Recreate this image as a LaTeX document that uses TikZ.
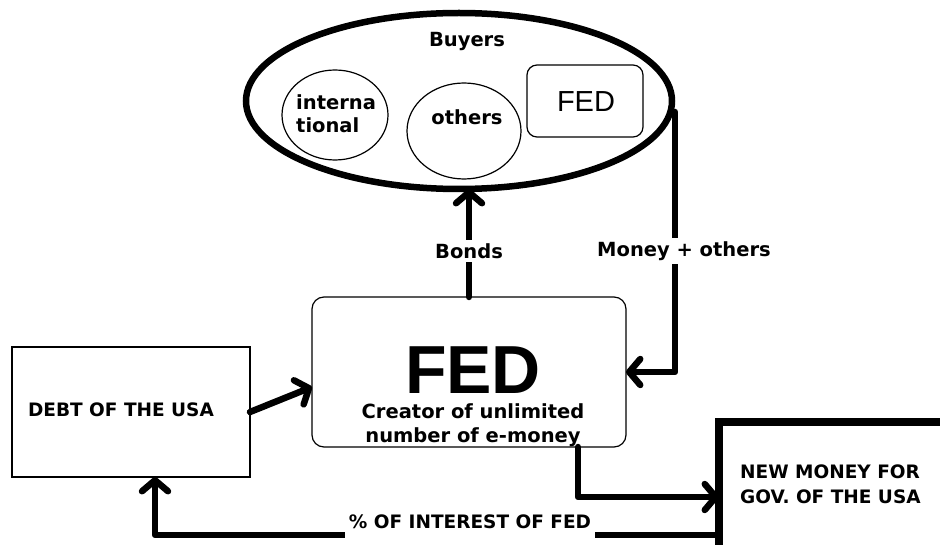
\documentclass[tikz,border=0pt]{standalone}
\usepackage{fontspec}
\usetikzlibrary{arrows.meta,shapes.geometric,calc}
\newfontfamily\tahomaf{DejaVu Sans}
\newfontfamily\arialf{Liberation Sans}
\begin{document}
\begin{tikzpicture}[x=1pt,y=-1pt,
  lbl/.style={font=\tahomaf\bfseries\fontsize{19.5}{23}\selectfont, inner sep=0pt, anchor=base},
  ulbl/.style={font=\tahomaf\bfseries\fontsize{18.5}{25}\selectfont, inner sep=0pt, anchor=base},
  thinbox/.style={draw, line width=1.2pt, inner sep=0pt, outer sep=0pt},
  flow/.style={line width=6.5pt, line join=round, line cap=round, -{Straight Barb[length=11pt,width=26pt,round]}},
  ]
\path[use as bounding box] (0,0) rectangle (940,545);
\clip (0,0) rectangle (940,545);
\fill[white] (0,0) rectangle (940,545);

% Buyers ellipse
\node[ellipse, draw, line width=6.5pt, minimum width=426pt, minimum height=176pt, inner sep=0pt, outer sep=0pt] (buy) at (459,101) {};
\node[lbl] (buyt) at (467,47) {Buyers};
\node[ellipse, thinbox, minimum width=106pt, minimum height=90pt] (intl) at (335,115) {};
\node[lbl, align=left, anchor=base west] (intlt) at (296,133) {interna\\tional};
\node[ellipse, thinbox, minimum width=114pt, minimum height=96pt] (oth) at (464,131) {};
\node[lbl] (otht) at (467,125) {others};
\node[rectangle, rounded corners=10pt, thinbox, minimum width=116pt, minimum height=72pt] (fedb) at (585,101) {};
\node[font=\arialf\fontsize{29}{32}\selectfont, inner sep=0pt, anchor=base] (fedbt) at (586,112) {FED};

% Central FED box
\node[rectangle, rounded corners=12pt, thinbox, minimum width=314pt, minimum height=150pt] (fed) at (469,372) {};
\node[font=\arialf\bfseries\fontsize{68}{72}\selectfont, inner sep=0pt, anchor=base] (fedt) at (473,393) {FED};
\node[lbl] (fedl1) at (473,418) {Creator of unlimited};
\node[lbl] (fedl2) at (473,442) {number of e-money};

% Debt box
\node[rectangle, thinbox, minimum width=238pt, minimum height=130pt] (debt) at (131,412) {};
\node[ulbl] (debtt) at (121,416) {DEBT OF THE USA};

% New money box
\node[rectangle, draw, line width=7.5pt, inner sep=0pt, outer sep=0pt, minimum width=245pt, minimum height=150pt, anchor=north west] (new) at (719,422) {};
\node[ulbl, anchor=base west] (newt1) at (740,478) {NEW MONEY FOR};
\node[ulbl, anchor=base west] (newt2) at (740,503) {GOV. OF THE USA};

% Connectors
\coordinate (mtop) at (675,112);
\draw[flow] (fed.north) -- (fed.north |- buy.south);
\draw[flow] (mtop) |- (fed.east);
\draw[flow] (debt.east) -- ($(fed.west)+(0,15)$);
\draw[flow] ($(fed.south)+(109,0)$) |- (new.west);
\draw[flow] ($(new.west)+(0,38)$) -| ($(debt.south)+(24,0)$);

% Connector labels
\node[lbl, anchor=center, fill=white, inner sep=3pt] (bonds) at (469,251) {Bonds};
\node[lbl, anchor=center, fill=white, inner sep=3pt] (money) at (684,251) {Money + others};
\node[ulbl, anchor=center, fill=white, inner sep=4pt, minimum height=34pt] (intr) at (470,522) {\% OF INTEREST OF FED};
\end{tikzpicture}
\end{document}
